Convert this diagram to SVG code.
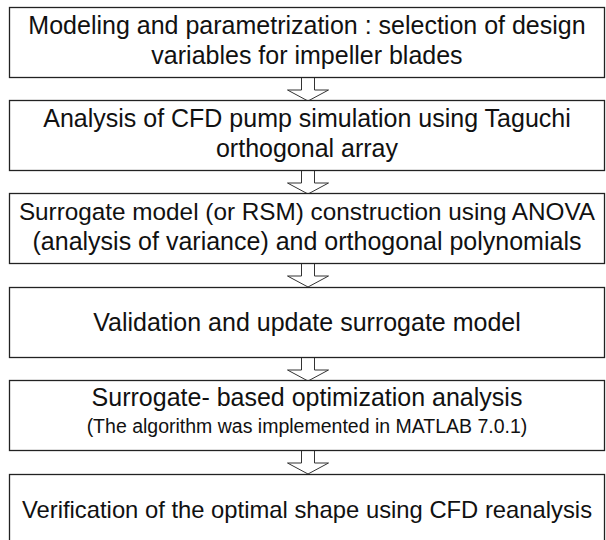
<svg xmlns="http://www.w3.org/2000/svg" width="606" height="540" viewBox="0 0 606 540">
<style>
.box{fill:#fff;stroke:#222;stroke-width:1.3}
.t{font-family:"Liberation Sans",Arial,sans-serif;font-size:25px;fill:#111;text-anchor:middle}
.s{font-size:19.5px}
.m{font-size:24.3px}
.v{font-size:23.8px}
.arr{fill:#fff;stroke:#333;stroke-width:1}
</style>
<rect width="606" height="540" fill="#fff"/>
<g id="connectors">
<path class="arr" d="M301.5,77 V90 H287.5 L308,101 L328.5,90 H314.5 V77"/>
<path class="arr" d="M301.5,170 V183 H287.5 L308,194 L328.5,183 H314.5 V170"/>
<path class="arr" d="M301.5,263 V276 H287.5 L308,287 L328.5,276 H314.5 V263"/>
<path class="arr" d="M301.5,357 V370 H287.5 L308,381 L328.5,370 H314.5 V357"/>
<path class="arr" d="M301.5,451 V463 H287.5 L308,474 L328.5,463 H314.5 V451"/>
</g>
<g id="n1">
<rect class="box" x="9.5" y="7.5" width="595" height="70"/>
<text class="t" x="307" y="34">Modeling and parametrization : selection of design</text>
<text class="t" x="307" y="64">variables for impeller blades</text>
</g>
<g id="n2">
<rect class="box" x="9.5" y="100.5" width="595" height="70"/>
<text class="t" x="307" y="127">Analysis of CFD pump simulation using Taguchi</text>
<text class="t" x="307" y="157">orthogonal array</text>
</g>
<g id="n3">
<rect class="box" x="9.5" y="193.5" width="595" height="70"/>
<text class="t m" x="307" y="220">Surrogate model (or RSM) construction using ANOVA</text>
<text class="t" x="307" y="250">(analysis of variance) and orthogonal polynomials</text>
</g>
<g id="n4">
<rect class="box" x="9.5" y="287.5" width="595" height="70"/>
<text class="t" x="307" y="331">Validation and update surrogate model</text>
</g>
<g id="n5">
<rect class="box" x="9.5" y="380.5" width="595" height="70"/>
<text class="t" x="307" y="406">Surrogate- based optimization analysis</text>
<text class="t s" x="307" y="433">(The algorithm was implemented in MATLAB 7.0.1)</text>
</g>
<g id="n6">
<rect class="box" x="9.5" y="474.5" width="595" height="80"/>
<text class="t v" x="307" y="518">Verification of the optimal shape using CFD reanalysis</text>
</g>
</svg>
